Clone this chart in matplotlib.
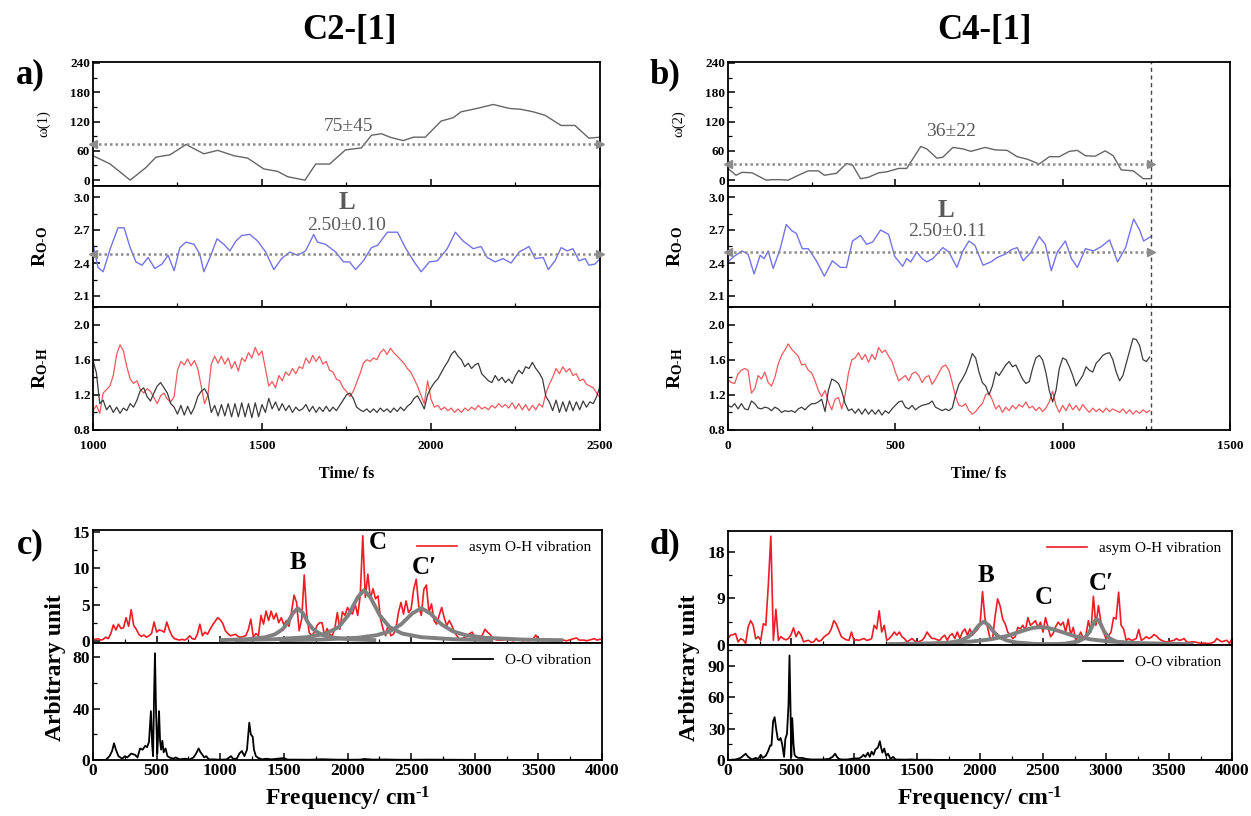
import numpy as np
import matplotlib
matplotlib.use("Agg")
import matplotlib.pyplot as plt
from matplotlib.ticker import MultipleLocator

plt.rcParams["font.family"] = ["Liberation Serif", "DejaVu Serif"]
plt.rcParams["font.weight"] = "bold"
plt.rcParams["axes.labelweight"] = "bold"
plt.rcParams["mathtext.fontset"] = "custom"
plt.rcParams["mathtext.rm"] = "Liberation Serif:bold"
plt.rcParams["mathtext.it"] = "Liberation Serif:bold"
plt.rcParams["mathtext.bf"] = "Liberation Serif:bold"
plt.rcParams["mathtext.default"] = "rm"

# ---------------- data: panel a (C2-[1]) ----------------
omega1_t = [1000, 1051, 1110, 1157, 1186, 1228, 1275, 1328, 1369, 1417,
            1458, 1505, 1546, 1576, 1627, 1659, 1700, 1747, 1794, 1824,
            1853, 1883, 1918, 1948, 1983, 2030, 2066, 2089, 2137, 2184,
            2231, 2267, 2302, 2337, 2385, 2426, 2467, 2500]
omega1_v = [50, 33, 0, 26, 47, 52, 73, 54, 61, 50,
            45, 23, 18, 7, 0, 33, 33, 62, 66, 92,
            95, 87, 81, 88, 88, 121, 128, 140, 147, 155,
            147, 145, 140, 133, 112, 112, 86, 88]

roo_a_t = [1000, 1015, 1030, 1051, 1074, 1092, 1110, 1127, 1145, 1163,
           1183, 1204, 1222, 1240, 1257, 1275, 1299, 1316, 1328, 1346,
           1367, 1387, 1405, 1423, 1440, 1464, 1487, 1511, 1535, 1558,
           1582, 1605, 1629, 1653, 1664, 1688, 1718, 1741, 1759, 1777,
           1800, 1824, 1842, 1871, 1901, 1924, 1948, 1971, 1995, 2019,
           2048, 2072, 2095, 2125, 2148, 2166, 2190, 2213, 2237, 2261,
           2290, 2308, 2332, 2347, 2367, 2385, 2403, 2420, 2438, 2456,
           2467, 2485, 2500]
roo_a_v = [2.57, 2.36, 2.32, 2.53, 2.72, 2.72, 2.54, 2.41, 2.38, 2.45,
           2.35, 2.39, 2.47, 2.33, 2.54, 2.59, 2.57, 2.48, 2.32, 2.45,
           2.62, 2.57, 2.51, 2.60, 2.65, 2.66, 2.60, 2.50, 2.34, 2.44,
           2.50, 2.47, 2.51, 2.66, 2.59, 2.57, 2.50, 2.41, 2.41, 2.34,
           2.42, 2.54, 2.56, 2.68, 2.68, 2.54, 2.42, 2.32, 2.41, 2.42,
           2.53, 2.68, 2.60, 2.53, 2.55, 2.45, 2.41, 2.44, 2.40, 2.50,
           2.55, 2.44, 2.45, 2.34, 2.42, 2.54, 2.51, 2.53, 2.42, 2.44,
           2.38, 2.39, 2.44]

# R_O-H sampled every 10 fs from 1000 to 2500 fs
roh_a_start, roh_a_step = 1000, 10
roh_a_red = [1.02, 1.08, 0.99, 1.22, 1.26, 1.30, 1.42, 1.66, 1.77, 1.70,
             1.52, 1.38, 1.33, 1.36, 1.26, 1.22, 1.27, 1.24, 1.17, 1.10,
             1.19, 1.22, 1.15, 1.12, 1.18, 1.48, 1.58, 1.54, 1.61, 1.53,
             1.59, 1.50, 1.30, 1.10, 1.20, 1.55, 1.64, 1.56, 1.64, 1.55,
             1.62, 1.50, 1.58, 1.47, 1.62, 1.58, 1.68, 1.62, 1.74, 1.65,
             1.70, 1.50, 1.30, 1.35, 1.28, 1.42, 1.36, 1.46, 1.42, 1.50,
             1.44, 1.52, 1.50, 1.62, 1.56, 1.65, 1.58, 1.64, 1.55, 1.58,
             1.48, 1.46, 1.38, 1.36, 1.28, 1.24, 1.18, 1.24, 1.34, 1.44,
             1.56, 1.60, 1.58, 1.62, 1.60, 1.68, 1.72, 1.66, 1.73, 1.68,
             1.64, 1.60, 1.56, 1.50, 1.46, 1.38, 1.30, 1.20, 1.10, 1.36,
             1.15, 1.06, 1.08, 1.03, 1.06, 1.02, 1.05, 1.00, 1.04, 1.00,
             1.05, 1.02, 1.06, 1.03, 1.08, 1.04, 1.06, 1.03, 1.08, 1.05,
             1.10, 1.06, 1.09, 1.05, 1.11, 1.04, 1.10, 1.03, 1.09, 1.02,
             1.08, 1.03, 1.10, 1.06, 1.22, 1.32, 1.40, 1.50, 1.44, 1.52,
             1.46, 1.50, 1.42, 1.44, 1.36, 1.38, 1.32, 1.30, 1.28, 1.22,
             1.17]
roh_a_black = [1.59, 1.45, 1.10, 1.14, 1.03, 1.08, 1.00, 1.06, 0.99, 1.05,
               1.02, 1.10, 1.06, 1.14, 1.25, 1.28, 1.18, 1.13, 1.22, 1.30,
               1.34, 1.28, 1.22, 1.10, 1.06, 0.98, 1.08, 0.97, 1.07, 0.98,
               1.06, 1.18, 1.24, 1.27, 1.20, 1.00, 1.08, 0.96, 1.09, 0.96,
               1.10, 0.95, 1.10, 0.95, 1.11, 0.95, 1.10, 0.94, 1.11, 0.95,
               1.09, 1.00, 1.16, 1.04, 1.12, 1.02, 1.10, 1.02, 1.08, 1.00,
               1.06, 1.02, 1.04, 1.09, 1.01, 1.07, 1.00, 1.06, 1.01, 1.07,
               1.01, 1.06, 1.02, 1.08, 1.14, 1.20, 1.22, 1.16, 1.06, 1.03,
               1.01, 1.04, 1.00, 1.04, 1.00, 1.05, 1.01, 1.04, 1.00, 1.05,
               1.01, 1.06, 1.02, 1.07, 1.10, 1.16, 1.19, 1.12, 1.04, 1.20,
               1.28, 1.34, 1.38, 1.45, 1.52, 1.58, 1.66, 1.70, 1.64, 1.60,
               1.52, 1.56, 1.50, 1.54, 1.56, 1.44, 1.40, 1.36, 1.34, 1.42,
               1.36, 1.40, 1.34, 1.38, 1.33, 1.42, 1.48, 1.44, 1.52, 1.50,
               1.57, 1.50, 1.45, 1.38, 1.18, 1.12, 1.02, 1.14, 1.00, 1.12,
               1.01, 1.13, 1.02, 1.12, 1.03, 1.13, 1.06, 1.12, 1.10, 1.18,
               1.30]
omega1_mean, roo_a_mean = 75, 2.48

# ---------------- data: panel b (C4-[1]) ----------------
omega2_t = [0, 24, 42, 72, 114, 132, 156, 180, 210, 240,
            270, 288, 324, 354, 372, 396, 420, 450, 474, 510,
            534, 576, 594, 624, 642, 672, 702, 726, 768, 798,
            834, 864, 894, 930, 960, 990, 1020, 1044, 1068, 1097,
            1127, 1151, 1175, 1211, 1241, 1263]
omega2_v = [24, 10, 16, 15, 0, 1, 1, 0, 10, 19,
            19, 10, 14, 34, 31, 3, 6, 15, 17, 24,
            24, 69, 64, 45, 47, 67, 64, 59, 67, 62,
            61, 48, 43, 33, 48, 48, 59, 61, 50, 49,
            60, 50, 21, 19, 3, 3]

roo_b_t = [0, 18, 42, 60, 78, 96, 108, 120, 135, 156,
           174, 192, 204, 222, 240, 264, 288, 312, 336, 354,
           372, 396, 414, 432, 456, 480, 498, 522, 534, 546,
           564, 580, 594, 612, 642, 660, 684, 702, 720, 738,
           762, 786, 804, 828, 846, 864, 882, 906, 930, 948,
           966, 984, 1008, 1026, 1044, 1068, 1092, 1116, 1140, 1164,
           1188, 1212, 1230, 1242, 1263]
roo_b_v = [2.41, 2.46, 2.51, 2.48, 2.30, 2.47, 2.44, 2.51, 2.35, 2.53,
           2.75, 2.69, 2.67, 2.53, 2.53, 2.42, 2.28, 2.42, 2.36, 2.36,
           2.60, 2.65, 2.57, 2.59, 2.70, 2.66, 2.46, 2.37, 2.44, 2.41,
           2.50, 2.44, 2.41, 2.44, 2.54, 2.50, 2.36, 2.51, 2.60, 2.56,
           2.38, 2.41, 2.45, 2.48, 2.52, 2.54, 2.42, 2.50, 2.64, 2.57,
           2.33, 2.50, 2.60, 2.44, 2.36, 2.53, 2.51, 2.55, 2.61, 2.41,
           2.54, 2.80, 2.70, 2.60, 2.64]

# R_O-H sampled every 10 fs from 0 to 1260 fs
roh_b_start, roh_b_step = 0, 10
roh_b_red = [1.37, 1.34, 1.33, 1.44, 1.48, 1.50, 1.48, 1.22, 1.27, 1.42,
             1.38, 1.46, 1.34, 1.30, 1.40, 1.55, 1.65, 1.71, 1.78, 1.72,
             1.68, 1.64, 1.54, 1.55, 1.48, 1.45, 1.36, 1.25, 1.18, 1.25,
             1.12, 1.03, 1.15, 1.17, 1.04, 1.20, 1.45, 1.60, 1.62, 1.68,
             1.60, 1.66, 1.57, 1.66, 1.60, 1.74, 1.68, 1.71, 1.64, 1.58,
             1.46, 1.36, 1.39, 1.42, 1.36, 1.44, 1.46, 1.42, 1.34, 1.40,
             1.42, 1.32, 1.38, 1.45, 1.52, 1.54, 1.48, 1.34, 1.18, 1.08,
             1.07, 1.10, 1.02, 0.98, 1.01, 1.06, 1.10, 1.20, 1.22, 1.14,
             1.04, 1.08, 1.00, 1.06, 1.02, 1.08, 1.04, 1.09, 1.06, 1.12,
             1.05, 1.07, 1.02, 1.06, 1.01, 1.05, 1.12, 1.24, 1.08, 1.00,
             1.08, 1.02, 1.10, 1.03, 1.08, 1.02, 1.09, 1.04, 1.00, 1.05,
             1.01, 1.04, 1.00, 1.05, 1.01, 1.04, 1.02, 1.00, 1.04, 0.99,
             1.03, 0.98, 1.02, 0.99, 1.03, 1.00,
             1.02]
roh_b_black = [1.08, 1.06, 1.10, 1.04, 1.10, 1.04, 1.03, 1.13, 1.10, 1.05,
               1.04, 1.06, 1.05, 1.02, 1.06, 1.04, 1.00, 1.02, 1.01, 1.02,
               1.00, 1.04, 1.06, 1.03, 1.07, 1.10, 1.10, 1.12, 1.15, 1.01,
               1.25, 1.38, 1.36, 1.33, 1.24, 1.10, 1.02, 1.04, 0.99, 1.04,
               0.98, 1.04, 0.98, 1.03, 0.98, 1.03, 0.97, 1.02, 0.99, 1.04,
               1.08, 1.12, 1.13, 1.06, 1.04, 1.08, 1.03, 1.06, 1.08, 1.09,
               1.10, 1.13, 1.06, 1.04, 1.02, 1.04, 1.02, 1.05, 1.20, 1.32,
               1.38, 1.45, 1.55, 1.67, 1.62, 1.46, 1.34, 1.30, 1.20, 1.30,
               1.46, 1.42, 1.48, 1.54, 1.58, 1.52, 1.54, 1.46, 1.38, 1.33,
               1.35, 1.50, 1.62, 1.65, 1.60, 1.45, 1.25, 1.12, 1.25, 1.50,
               1.62, 1.60, 1.52, 1.42, 1.30, 1.36, 1.42, 1.52, 1.48, 1.46,
               1.56, 1.60, 1.65, 1.67, 1.68, 1.60, 1.46, 1.36, 1.42, 1.56,
               1.70, 1.84, 1.83, 1.76, 1.60, 1.58,
               1.63]
omega2_mean, roo_b_mean = 34, 2.50
t_end_b = 1265

# ---------------- data: panel c spectra (C2-[1]) ----------------
spec_step = 20  # red spectra sampled every 20 cm-1 from 0 to 4000
asym_c = [0.2, 0.2, 0.3, 0.1, 0.2, 0.5, 0.3, 1.0, 2.2, 1.5,
          2.3, 1.7, 1.8, 3.2, 2.0, 4.3, 2.1, 1.6, 0.9, 0.6,
          0.8, 0.5, 0.7, 1.0, 2.6, 1.2, 1.5, 1.4, 1.2, 2.6,
          1.5, 0.7, 0.3, 0.2, 0.1, 0.2, 0.1, 0.3, 0.7, 0.3,
          0.2, 0.9, 2.3, 0.7, 1.2, 0.9, 1.6, 2.2, 2.7, 3.2,
          2.9, 2.4, 1.4, 1.0, 0.7, 0.8, 0.9, 0.6, 0.5, 0.6,
          0.7, 1.5, 3.0, 0.5, 1.0, 0.7, 3.5, 2.3, 4.1, 2.8,
          4.1, 3.0, 3.8, 2.5, 3.2, 2.2, 2.8, 2.0, 4.0, 6.3,
          5.3, 1.4, 3.0, 9.1, 3.5, 1.1, 0.7, 1.2, 2.1, 2.5,
          2.5, 0.7, 1.7, 0.9, 0.7, 1.7, 3.9, 1.6, 4.0, 3.5,
          4.6, 4.0, 3.7, 5.1, 3.5, 6.2, 14.5, 6.0, 9.2, 5.8,
          7.2, 5.8, 6.2, 3.0, 1.6, 0.7, 2.3, 0.7, 0.9, 1.6,
          3.9, 5.3, 3.7, 5.5, 3.9, 4.4, 7.1, 8.5, 4.8, 3.5,
          7.1, 7.7, 3.9, 5.1, 2.8, 2.3, 3.5, 4.6, 3.2, 2.1,
          2.8, 2.1, 1.2, 0.7, 0.2, 0.3, 0.5, 0.6, 1.0, 1.2,
          0.5, 0.4, 0.5, 0.8, 1.6, 1.2, 0.9, 0.4, 0.2, 0.1,
          0.1, 0.1, 0.2, 0.1, 0.1, 0.0, 0.1, 0.1, 0.1, 0.0,
          0.1, 0.0, 0.1, 0.3, 0.8, 0.2, 0.1, 0.0, 0.1, 0.1,
          0.1, 0.0, 0.1, 0.0, 0.1, 0.1, 0.0, 0.1, 0.2, 0.3,
          0.4, 0.1, 0.1, 0.1, 0.0, 0.1, 0.2, 0.3, 0.1, 0.2,
          0.2]
oo_c_f = [0, 100, 130, 150, 165, 180, 200, 230, 250, 270,
          300, 330, 350, 370, 390, 410, 425, 440, 455, 465,
          472, 480, 487, 495, 505, 512, 519, 527, 535, 545,
          555, 570, 585, 600, 630, 650, 680, 720, 760, 790,
          810, 830, 845, 860, 875, 890, 910, 950, 1000, 1050,
          1085, 1100, 1130, 1150, 1170, 1190, 1210, 1228, 1240, 1255,
          1265, 1280, 1300, 1330, 1360, 1400, 1450, 1500, 1530, 1600,
          1700, 1800, 1900, 2000, 2100, 2130, 2200, 2300, 2400, 2500,
          2650, 2800, 3000, 3500, 4000]
oo_c_v = [0, 0, 3, 7, 13, 8, 3, 1, 3, 2,
          5, 4, 2, 9, 8, 11, 10, 14, 38, 12,
          3, 50, 83, 40, 5, 20, 38, 15, 8, 15,
          6, 9, 3, 2, 1, 2, 0.5, 1, 0.5, 2,
          5, 9, 6, 4, 2, 3, 0.5, 0.5, 0.2, 0.5,
          3, 1, 1, 5, 7, 3, 8, 29, 20, 18,
          8, 3, 1.5, 0.5, 1, 0.5, 1, 1.5, 0.3, 0.3,
          0.2, 0.6, 0.3, 0.2, 0.3, 0.8, 0.3, 0.4, 0.2, 0.2,
          0.3, 0.2, 0.1, 0.05, 0]
# peak fits (B, C, C')
fit_c = {
    "B": ([1010, 1210, 1350, 1430, 1490, 1530, 1570, 1610, 1650, 1690, 1730, 1790, 1870, 2010, 2210],
          [0.1, 0.22, 0.48, 0.9, 1.6, 2.5, 3.8, 4.5, 3.8, 2.5, 1.6, 0.9, 0.48, 0.22, 0.1]),
    "C": ([1130, 1430, 1680, 1830, 1930, 2005, 2080, 2130, 2180, 2255, 2330, 2430, 2580, 2830, 3130],
          [0.1, 0.22, 0.5, 1.0, 1.9, 3.5, 6.0, 7.0, 6.0, 3.5, 1.9, 1.0, 0.5, 0.22, 0.1]),
    "C'": ([1480, 1780, 2080, 2230, 2330, 2420, 2510, 2580, 2650, 2740, 2830, 2930, 3080, 3380, 3680],
           [0.09, 0.17, 0.42, 0.78, 1.3, 2.25, 3.8, 4.5, 3.8, 2.25, 1.3, 0.78, 0.42, 0.17, 0.09]),
}
label_c = {"B": (1610, 10.8), "C": (2240, 13.6), "C'": (2600, 10.1)}

# ---------------- data: panel d spectra (C4-[1]) ----------------
asym_d = [1.25, 1.9, 2.0, 2.2, 0.6, 1.2, 1.0, 0.3, 3.5, 4.7,
          3.8, 1.2, 1.6, 0.9, 4.1, 3.8, 11.6, 21.0, 0.9, 6.9,
          0.9, 1.6, 1.2, 1.0, 1.25, 2.0, 3.3, 1.6, 2.6, 1.9,
          0.6, 0.8, 0.9, 0.5, 0.6, 1.25, 0.7, 0.9, 1.5, 1.9,
          2.2, 3.1, 4.7, 4.0, 2.8, 1.6, 1.25, 1.0, 0.9, 2.5,
          0.9, 1.0, 0.9, 1.1, 1.25, 0.9, 1.0, 1.25, 3.8, 3.1,
          6.6, 2.5, 3.8, 0.9, 1.25, 1.8, 2.5, 1.9, 2.5, 1.6,
          1.25, 0.6, 0.9, 1.25, 0.8, 0.6, 0.7, 0.9, 1.5, 2.5,
          1.8, 1.25, 1.25, 1.0, 0.9, 1.5, 1.9, 0.9, 1.8, 2.2,
          1.25, 2.5, 1.25, 2.5, 3.1, 1.9, 3.1, 1.9, 2.5, 3.0,
          3.8, 10.3, 5.0, 3.4, 1.25, 1.25, 5.6, 8.9, 7.5, 5.0,
          4.1, 2.5, 1.9, 1.25, 1.6, 3.4, 3.1, 3.8, 2.8, 5.3,
          3.8, 4.2, 4.7, 3.4, 4.4, 2.5, 5.3, 3.4, 1.6, 2.2,
          3.5, 4.4, 3.8, 4.4, 2.5, 5.0, 1.9, 3.4, 0.9, 1.5,
          2.5, 1.25, 1.8, 4.7, 2.5, 9.4, 3.8, 7.6, 4.4, 2.5,
          1.25, 1.8, 2.5, 5.3, 5.0, 10.2, 3.8, 3.1, 0.9, 1.25,
          0.9, 1.0, 1.25, 3.0, 0.9, 1.2, 1.6, 1.25, 1.5, 2.0,
          1.75, 1.2, 0.9, 0.7, 0.6, 0.7, 0.8, 0.9, 1.25, 0.9,
          1.0, 1.25, 0.6, 0.5, 0.6, 0.6, 0.5, 0.4, 0.3, 0.4,
          0.3, 0.3, 0.4, 0.6, 1.25, 0.9, 0.6, 0.8, 0.9, 0.3,
          1.25]
oo_d_f = [0, 60, 100, 130, 140, 160, 190, 220, 240, 260,
          275, 300, 320, 335, 345, 358, 370, 382, 395, 405,
          418, 430, 445, 455, 468, 480, 488, 496, 502, 510,
          520, 528, 540, 560, 590, 620, 660, 700, 750, 800,
          830, 850, 865, 880, 900, 950, 1000, 1040, 1060, 1075,
          1090, 1110, 1125, 1140, 1155, 1170, 1190, 1205, 1215, 1225,
          1240, 1255, 1270, 1290, 1310, 1330, 1400, 1450, 1500, 1600,
          1700, 4000]
oo_d_v = [0, 0.5, 2, 5, 6, 3, 0.5, 2, 1, 5,
          2, 4, 9, 14, 14, 37, 41, 30, 20, 19,
          21, 15, 3, 20, 25, 52, 100, 50, 3, 40,
          15, 5, 3, 2, 2, 1, 0.5, 0.5, 0.5, 1,
          3, 6, 3, 1, 0.5, 0.5, 1.5, 1.5, 3, 5,
          3, 7, 3, 8, 5, 10, 12, 18, 12, 7,
          11, 4, 6, 1, 3, 0.5, 0.3, 0.5, 0.2, 0.2,
          0, 0]
fit_d = {
    "B": ([1430, 1630, 1770, 1850, 1910, 1950, 1990, 2030, 2070, 2110, 2150, 2210, 2290, 2430, 2630],
          [0.1, 0.22, 0.48, 0.9, 1.6, 2.5, 3.8, 4.5, 3.8, 2.5, 1.6, 0.9, 0.48, 0.22, 0.1]),
    "C": ([1280, 1680, 1930, 2080, 2210, 2360, 2420, 2480, 2540, 2600, 2750, 2880, 3030, 3280, 3680],
          [0.17, 0.35, 0.67, 1.08, 1.72, 2.9, 3.3, 3.45, 3.3, 2.9, 1.72, 1.08, 0.67, 0.35, 0.17]),
    "C'": ([2528, 2678, 2778, 2828, 2868, 2898, 2913, 2928, 2943, 2958, 2988, 3028, 3078, 3178, 3328],
           [0.11, 0.27, 0.69, 1.3, 2.5, 4.0, 4.7, 5.0, 4.7, 4.0, 2.5, 1.3, 0.69, 0.27, 0.11]),
}
label_d = {"B": (2048, 13.5), "C": (2506, 9.1), "C'": (2960, 11.9)}

# ---------------- styling ----------------
W, H = 1251, 816
C_OMEGA = "#666666"
C_BLUE = "#7474ea"
C_RED_T = "#f05a5d"
C_BLK_T = "#3c3c3c"
C_RED_S = "#ee1c24"
C_FIT = "#808080"
C_ANN = "#5a5a5a"


def box(x0, y0, x1, y1):
    """pixel box (top-left origin) -> figure fraction rect"""
    return [x0 / W, 1 - y1 / H, (x1 - x0) / W, (y1 - y0) / H]


def style(ax, size, xmaj, xmin, ymaj, ymin, xlabels=True, xpad=2):
    ax.xaxis.set_major_locator(MultipleLocator(xmaj))
    ax.xaxis.set_minor_locator(MultipleLocator(xmin))
    ax.yaxis.set_major_locator(MultipleLocator(ymaj))
    ax.yaxis.set_minor_locator(MultipleLocator(ymin))
    ax.tick_params(which="both", direction="in", top=False, right=False,
                   labelsize=size, labelbottom=xlabels, pad=2)
    ax.tick_params(axis="x", pad=xpad)
    ax.tick_params(which="major", length=5, width=1.1)
    ax.tick_params(which="minor", length=3, width=0.9)
    for s in ax.spines.values():
        s.set_linewidth(1.3)


def mean_arrow(ax, x0, x1, y):
    ax.plot([x0, x1], [y, y], ls=(0, (1, 1.2)), color="#8c8c8c", lw=1.8, zorder=3)
    ax.plot([x0], [y], marker="<", ms=6, color="#8c8c8c", zorder=3, clip_on=False)
    ax.plot([x1], [y], marker=">", ms=6, color="#8c8c8c", zorder=3, clip_on=False)


def time_panel(x0, x1, xlim, xmaj, t_om, v_om, om_label, om_mean, om_text, om_text_xy,
               t_roo, v_roo, roo_mean, roo_text, L_xy, roo_text_xy,
               t_start, t_step, red, black, arrow_end, vline=None):
    ys = [(62, 186), (186, 307), (307, 430)]
    ax1 = fig.add_axes(box(x0, ys[0][0], x1, ys[0][1]))
    ax2 = fig.add_axes(box(x0, ys[1][0], x1, ys[1][1]))
    ax3 = fig.add_axes(box(x0, ys[2][0], x1, ys[2][1]))

    ax1.plot(t_om, v_om, color=C_OMEGA, lw=1.0)
    ax1.set_xlim(*xlim); ax1.set_ylim(-12, 242)
    style(ax1, 9.5, xmaj, xmaj / 2, 60, 30, xlabels=False)
    ax1.set_ylabel(om_label, fontsize=10.5, fontweight="normal")
    mean_arrow(ax1, xlim[0], arrow_end, om_mean)
    ax1.text(*om_text_xy, om_text, fontsize=14, fontweight="normal", color=C_ANN,
             ha="center", va="center")

    ax2.plot(t_roo, v_roo, color=C_BLUE, lw=1.0)
    ax2.set_xlim(*xlim); ax2.set_ylim(2.0, 3.1)
    style(ax2, 9.5, xmaj, xmaj / 2, 0.3, 0.15, xlabels=False)
    ax2.set_ylabel(r"R$_{\text{O-O}}$", fontsize=14)
    mean_arrow(ax2, xlim[0], arrow_end, roo_mean)
    ax2.text(*L_xy, "L", fontsize=18, color=C_ANN, ha="center", va="center")
    ax2.text(*roo_text_xy, roo_text, fontsize=14, fontweight="normal", color=C_ANN,
             ha="center", va="center")

    t = t_start + t_step * np.arange(len(red))
    ax3.plot(t, red, color=C_RED_T, lw=0.9)
    ax3.plot(t, black, color=C_BLK_T, lw=0.9)
    ax3.set_xlim(*xlim); ax3.set_ylim(0.8, 2.2)
    style(ax3, 9.5, xmaj, xmaj / 2, 0.4, 0.2, xpad=7)
    ax3.set_ylabel(r"R$_{\text{O-H}}$", fontsize=14)
    ax3.set_xlabel("Time/ fs", fontsize=11.5, labelpad=10)

    for ax in (ax1, ax2, ax3):
        ax.yaxis.set_label_coords(-0.085, 0.5)
        if vline is not None:
            ax.axvline(vline, color="#444444", ls=(0, (3, 2.5)), lw=1.0)
    return ax1


def spec_panel(x0, x1, y0, ymid, y1, red, ylim_top, ymaj_top, oo_f, oo_v, ylim_bot,
               ymaj_bot, fits, labels):
    axt = fig.add_axes(box(x0, y0, x1, ymid))
    axb = fig.add_axes(box(x0, ymid, x1, y1))
    f = spec_step * np.arange(len(red))
    axt.plot(f, red, color=C_RED_S, lw=1.2, label="asym O-H vibration")
    for name, (fx, fy) in fits.items():
        axt.plot(fx, fy, color=C_FIT, lw=2.8, solid_joinstyle="round", zorder=3)
        lx, ly = labels[name]
        axt.text(lx, ly, name.replace("'", "\u2032"), fontsize=18, ha="center",
                 va="center", color="black")
    axt.set_xlim(0, 4000); axt.set_ylim(*ylim_top)
    style(axt, 12.5, 500, 250, ymaj_top, ymaj_top / 2, xlabels=False)
    axt.legend(loc="upper right", frameon=False, handlelength=2.6,
               prop={"family": "Liberation Serif", "weight": "normal", "size": 11},
               borderaxespad=0.3)

    axb.plot(oo_f, oo_v, color="black", lw=1.3, label="O-O vibration")
    axb.set_xlim(0, 4000); axb.set_ylim(*ylim_bot)
    style(axb, 12.5, 500, 250, ymaj_bot, ymaj_bot / 2)
    axb.legend(loc="upper right", frameon=False, handlelength=2.6,
               prop={"family": "Liberation Serif", "weight": "normal", "size": 11},
               borderaxespad=0.3)
    axb.set_xlabel(r"Frequency/ cm$^{\text{-1}}$", fontsize=17, labelpad=4)
    return axt


fig = plt.figure(figsize=(W / 100, H / 100), dpi=100)

time_panel(93, 600, (1000, 2500), 500, omega1_t, omega1_v, "\u03c9(1)", omega1_mean,
           "75\u00b145", (1757, 109), roo_a_t, roo_a_v, roo_a_mean, "2.50\u00b10.10",
           (1750, 2.95), (1750, 2.74), roh_a_start, roh_a_step, roh_a_red, roh_a_black,
           2500)
time_panel(728, 1230, (0, 1500), 500, omega2_t, omega2_v, "\u03c9(2)", omega2_mean,
           "36\u00b122", (666, 100), roo_b_t, roo_b_v, roo_b_mean, "2.50\u00b10.11",
           (651, 2.88), (656, 2.69), roh_b_start, roh_b_step, roh_b_red, roh_b_black,
           t_end_b, vline=t_end_b)

spec_panel(93, 602, 530, 643, 760, asym_c, (-0.3, 15.3), 5, oo_c_f, oo_c_v,
           (0, 91), 40, fit_c, label_c)
spec_panel(728, 1232, 531, 645, 760, asym_d, (0, 22), 9, oo_d_f, oo_d_v,
           (0, 110), 30, fit_d, label_d)

fig.text(350 / W, 1 - 30 / H, "C2-[1]", fontsize=25, ha="center", va="center")
fig.text(985 / W, 1 - 30 / H, "C4-[1]", fontsize=25, ha="center", va="center")
for lab, x, y in (("a)", 30, 75), ("b)", 665, 75), ("c)", 30, 545), ("d)", 665, 545)):
    fig.text(x / W, 1 - y / H, lab, fontsize=25, ha="center", va="center")
for x in (55, 690):
    fig.text(x / W, 1 - 668 / H, "Arbitrary unit", fontsize=17, rotation=90,
             ha="center", va="center")

fig.savefig("out.png", dpi=100)
